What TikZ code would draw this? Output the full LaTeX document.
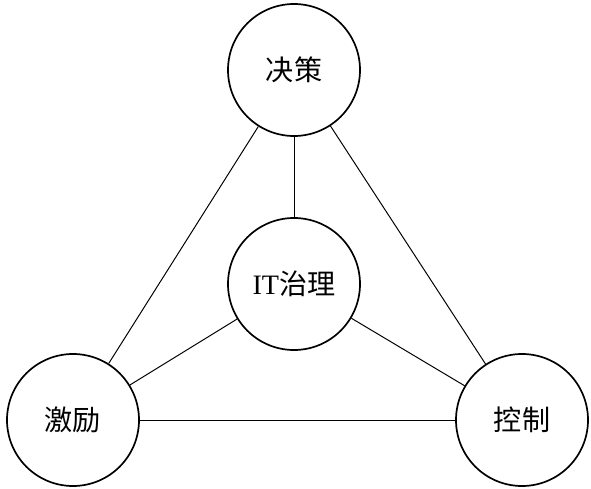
\documentclass[tikz,border=0pt]{standalone}
\usepackage{fontspec}
\setmainfont{Liberation Serif}
\newfontfamily\cjk{Noto Sans CJK SC}
\usetikzlibrary{calc}
\tikzset{
  Circ/.style={circle,draw=black,line width=1.2pt,minimum size=3.3cm,inner sep=0pt,
    font=\fontsize{20}{22}\selectfont},
  Link/.style={line width=0.7pt,color=black}
}

\begin{document}
\begin{tikzpicture}
\useasboundingbox (0,0) rectangle (14.775,12.2);

\node[Circ] (JC) at (7.35,10.45) {\cjk 决策};
\node[Circ] (IT) at (7.35,5.1) {IT\cjk 治理};
\node[Circ] (JL) at (1.825,1.7) {\cjk 激励};
\node[Circ] (KZ) at (13.05,1.7) {\cjk 控制};

\draw[Link] (JC) -- (JL);
\draw[Link] (JC) -- (KZ);
\draw[Link] (JC) -- (IT);
\draw[Link] (IT) -- (JL);
\draw[Link] (IT) -- (KZ);
\draw[Link] (JL) -- (KZ);

\end{tikzpicture}
\end{document}
